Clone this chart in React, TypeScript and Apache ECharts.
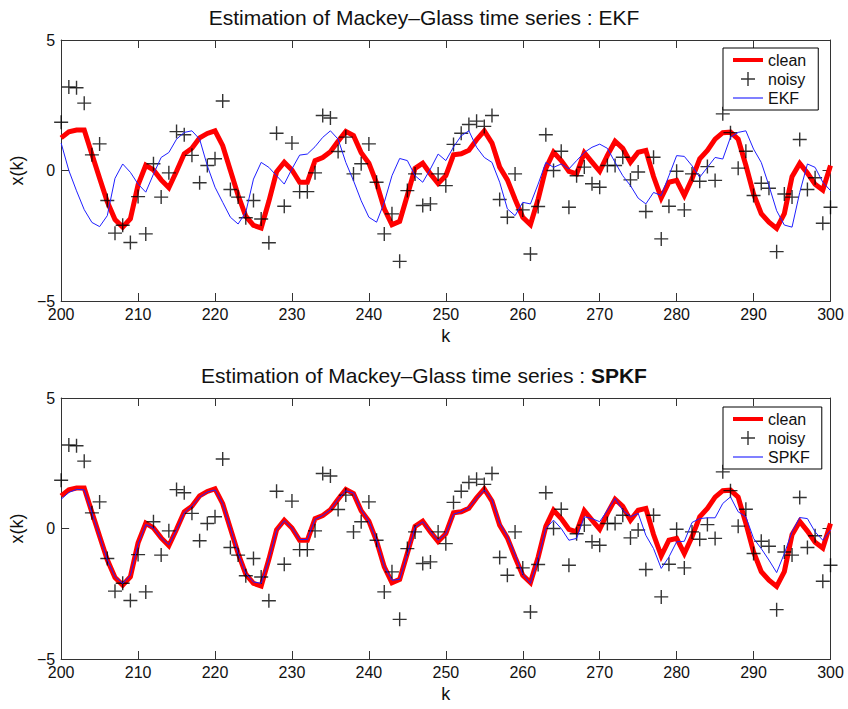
import React, { useEffect, useRef } from 'react';
import * as echarts from 'echarts';

// k runs from 200 to 300, one sample per step
const K_START = 200;
const K_END = 300;
const X_TICK_STEP = 10;
const Y_MIN = -5;
const Y_MAX = 5;
const Y_TICK_STEP = 5;

const clean: number[] = [
  1.25, 1.48, 1.55, 1.55, 0.62, -0.3, -1.2, -1.88, -2.17, -1.85,
  -0.55, 0.2, 0.02, -0.36, -0.66, -0.03, 0.64, 0.85, 1.25, 1.42,
  1.52, 0.95, 0.0, -0.95, -1.75, -2.1, -2.2, -1.18, -0.05, 0.32,
  0.02, -0.45, -0.45, 0.38, 0.5, 0.72, 1.12, 1.5, 1.34, 0.68,
  0.28, -0.48, -1.47, -2.08, -1.95, -0.95, 0.08, 0.28, -0.13, -0.5,
  -0.2, 0.6, 0.64, 0.78, 1.18, 1.52, 1.05, 0.13, -0.36, -1.1,
  -1.79, -2.07, -1.1, 0.08, 0.7, 0.38, -0.03, -0.13, 0.68, 0.32,
  -0.03, 0.58, 1.12, 0.85, 0.32, 0.7, 0.77, -0.23, -1.05, -0.45,
  -0.38, -0.96, -0.32, 0.45, 0.77, 1.2, 1.45, 1.47, 1.2, 0.2,
  -0.9, -1.65, -1.98, -2.22, -1.65, -0.24, 0.27, -0.1, -0.53, -0.75,
  0.19,
];

const noisy: number[] = [
  1.85, 3.2, 3.17, 2.58, 0.6, 1.02, -1.15, -2.4, -2.1, -2.76,
  -1.0, -2.43, 0.26, -1.02, -0.09, 1.49, 1.37, 0.58, -0.47, 0.19,
  0.45, 2.66, -0.73, -1.02, -1.81, -1.15, -1.86, -2.77, 1.43, -1.37,
  1.05, -0.81, -0.81, -0.09, 2.11, 2.01, 0.73, 1.28, -0.13, 0.26,
  1.02, -0.45, -2.43, -1.66, -3.48, -0.77, -0.13, -1.34, -1.28, -0.13,
  -0.58, 1.0, 1.43, 1.76, 1.89, 1.69, 2.11, -1.11, -1.79, -0.13,
  -1.51, -3.2, -1.38, 1.37, 0.0, 0.74, -1.41, -0.2, 0.13, -0.51,
  -0.64, 0.19, 0.19, 0.51, -0.36, -0.06, -1.57, 0.51, -2.62, -1.37,
  -0.03, -1.51, -0.13, -0.41, 0.15, -0.38, 2.17, 1.45, 0.09, 0.74,
  -0.96, -0.49, -0.68, -3.11, -0.9, -1.02, 1.19, -0.73, -0.28, -2.02,
  -1.41,
];

const ekf: number[] = [
  1.05, 0.0, -0.78, -1.5, -1.99, -2.15, -1.73, -0.3, 0.25, -0.07,
  -0.52, -0.83, -0.14, 0.5, 0.69, 1.2, 1.46, 1.52, 1.2, 0.18,
  -0.64, -1.22, -1.79, -2.05, -1.6, -0.33, 0.31, 0.12, -0.2, -0.52,
  0.06, 0.59, 0.63, 0.91, 1.27, 1.52, 1.2, 0.31, -0.39, -1.16,
  -1.79, -1.98, -1.22, -0.2, 0.46, 0.38, -0.2, -0.45, 0.06, 0.63,
  0.38, 0.9, 1.33, 1.52, 0.89, 0.5, 0.31, -0.45, -1.47, -1.73,
  -1.22, -1.28, -0.52, 0.31, 0.12, 0.25, 0.06, 0.38, 0.69, 0.89,
  1.01, 0.85, 0.31, -0.2, -0.58, -1.06, -1.28, -0.84, -0.96, -0.2,
  0.57, 0.54, 0.18, -0.26, 0.12, 0.5, 0.44, 1.27, 1.46, 1.52,
  0.82, 0.31, -0.58, -1.54, -2.09, -2.17, -0.84, 0.25, 0.12, -0.45,
  -0.77,
];

const spkf: number[] = [
  1.12, 1.38, 1.5, 1.48, 0.6, -0.3, -1.2, -1.85, -2.1, -1.8,
  -0.6, 0.15, 0.02, -0.36, -0.62, -0.05, 0.6, 0.85, 1.2, 1.4,
  1.48, 0.95, 0.02, -0.95, -1.72, -2.05, -2.1, -1.2, -0.08, 0.3,
  0.02, -0.42, -0.42, 0.35, 0.5, 0.72, 1.12, 1.45, 1.36, 0.72,
  0.28, -0.45, -1.45, -1.98, -1.95, -0.98, 0.05, 0.26, -0.1, -0.45,
  -0.2, 0.55, 0.64, 0.8, 1.15, 1.48, 1.1, 0.2, -0.3, -1.0,
  -1.75, -2.1, -1.15, 0.0, 0.32, 0.0, -0.45, -0.38, 0.45, 0.38,
  0.26, 0.7, 1.15, 0.7, 0.45, 0.58, -0.26, -0.77, -1.53, -1.09,
  -0.51, -0.49, 0.23, 0.38, 0.41, 0.41, 0.96, 1.21, 0.64, 0.45,
  -0.38, -0.77, -1.21, -1.69, -0.96, -0.13, 0.42, 0.38, -0.13, -0.45,
  -0.06,
];

const TITLE_MAIN = 'Estimation of Mackey–Glass time series : ';
const TITLE_TOP_METHOD = 'EKF';
const TITLE_BOTTOM_METHOD = 'SPKF';

const FONT = '"Liberation Sans", Arial, Helvetica, sans-serif';
const AXIS_COLOR = '#333333';
const TEXT_COLOR = '#111111';
const PLUS_PATH = 'path://M6.5,2h1v4.5h4.5v1h-4.5v4.5h-1v-4.5h-4.5v-1h4.5z';

const toPairs = (vals: number[]) => vals.map((v, i) => [K_START + i, v]);

const GRIDS = [
  { left: 59.5, top: 40, width: 771, height: 261 },
  { left: 59.5, top: 398, width: 771, height: 261 },
];

function xAxes(g: number) {
  const common = {
    gridIndex: g,
    type: 'value',
    min: K_START,
    max: K_END,
    interval: X_TICK_STEP,
    axisLine: { show: true, onZero: false, lineStyle: { color: AXIS_COLOR, width: 1 } },
    axisTick: { show: true, inside: true, length: 8, lineStyle: { color: AXIS_COLOR, width: 1 } },
    splitLine: { show: false },
  };
  return [
    {
      ...common,
      position: 'bottom',
      name: 'k',
      nameLocation: 'middle',
      nameGap: 26,
      nameTextStyle: { fontFamily: FONT, fontSize: 18, color: TEXT_COLOR },
      axisLabel: { margin: 5, fontFamily: FONT, fontSize: 16, color: TEXT_COLOR },
    },
    { ...common, position: 'top', axisLabel: { show: false } },
  ];
}

function yAxes(g: number) {
  const common = {
    gridIndex: g,
    type: 'value',
    min: Y_MIN,
    max: Y_MAX,
    interval: Y_TICK_STEP,
    axisLine: { show: true, onZero: false, lineStyle: { color: AXIS_COLOR, width: 1 } },
    axisTick: { show: true, inside: true, length: 8, lineStyle: { color: AXIS_COLOR, width: 1 } },
    splitLine: { show: false },
  };
  return [
    {
      ...common,
      position: 'left',
      name: 'x(k)',
      nameLocation: 'middle',
      nameGap: 25,
      nameTextStyle: { fontFamily: FONT, fontSize: 18, color: TEXT_COLOR },
      axisLabel: {
        margin: 6,
        fontFamily: FONT,
        fontSize: 16,
        color: TEXT_COLOR,
        formatter: (v: number) => String(v).replace('-', '\u2212'),
      },
    },
    { ...common, position: 'right', axisLabel: { show: false } },
  ];
}

function legendFor(top: number, estName: string) {
  return {
    orient: 'vertical',
    left: 723,
    top,
    selectedMode: false,
    itemWidth: 30,
    itemHeight: 14,
    itemGap: 3,
    itemTextGap: 9,
    padding: [4, 12, 4, 10],
    borderColor: '#000',
    borderWidth: 1,
    backgroundColor: '#fff',
    textStyle: { fontFamily: FONT, fontSize: 16, color: TEXT_COLOR },
    data: [
      { name: 'clean', icon: 'path://M0,0h30v4h-30z', itemStyle: { color: '#ff0000', borderWidth: 0 } },
      { name: 'noisy', icon: PLUS_PATH, itemStyle: { color: '#000', borderWidth: 0 } },
      { name: estName, icon: 'path://M0,0h30v1h-30z', itemStyle: { color: '#0000ff', borderWidth: 0 } },
    ],
  };
}

function seriesFor(g: number, estName: string, est: number[]) {
  const xi = g * 2;
  const yi = g * 2;
  return [
    {
      name: 'clean',
      type: 'line',
      xAxisIndex: xi,
      yAxisIndex: yi,
      data: toPairs(clean),
      showSymbol: false,
      symbol: 'none',
      color: '#ff0000',
      lineStyle: { color: '#ff0000', width: 5, join: 'miter' },
      z: 2,
    },
    {
      name: 'noisy',
      type: 'scatter',
      xAxisIndex: xi,
      yAxisIndex: yi,
      data: toPairs(noisy),
      symbol: PLUS_PATH,
      symbolSize: 14,
      color: '#000',
      itemStyle: { color: '#000' },
      z: 3,
    },
    {
      name: estName,
      type: 'line',
      xAxisIndex: xi,
      yAxisIndex: yi,
      data: toPairs(est),
      showSymbol: false,
      symbol: 'none',
      color: '#0000ff',
      lineStyle: { color: '#1f1fff', width: 1 },
      z: 4,
    },
  ];
}

export default function App() {
  const ref = useRef<HTMLDivElement>(null);
  useEffect(() => {
    if (!ref.current) return;
    const chart = echarts.init(ref.current, undefined, { renderer: 'svg' });
    const titleStyle = { fontFamily: FONT, fontSize: 21, fontWeight: 'normal', color: TEXT_COLOR };
    chart.setOption({
      animation: false,
      backgroundColor: '#ffffff',
      title: [
        {
          text: TITLE_MAIN + TITLE_TOP_METHOD,
          left: 'center',
          top: 2,
          padding: [5, 5, 5, 25],
          textStyle: titleStyle,
        },
        {
          text: '{n|' + TITLE_MAIN + '}{b|' + TITLE_BOTTOM_METHOD + '}',
          left: 'center',
          top: 360,
          padding: [5, 5, 5, 25],
          textStyle: {
            ...titleStyle,
            rich: {
              n: { fontFamily: FONT, fontSize: 21, color: TEXT_COLOR },
              b: { fontFamily: FONT, fontSize: 21, fontWeight: 'bold', color: TEXT_COLOR },
            },
          },
        },
      ],
      legend: [legendFor(48, TITLE_TOP_METHOD), legendFor(407, TITLE_BOTTOM_METHOD)],
      grid: GRIDS,
      xAxis: [...xAxes(0), ...xAxes(1)],
      yAxis: [...yAxes(0), ...yAxes(1)],
      series: [
        ...seriesFor(0, TITLE_TOP_METHOD, ekf),
        ...seriesFor(1, TITLE_BOTTOM_METHOD, spkf),
      ],
    });
    return () => chart.dispose();
  }, []);
  return (
    <div
      ref={ref}
      style={{ position: 'absolute', left: 0, top: 0, width: 848, height: 709, background: '#fff' }}
    />
  );
}
